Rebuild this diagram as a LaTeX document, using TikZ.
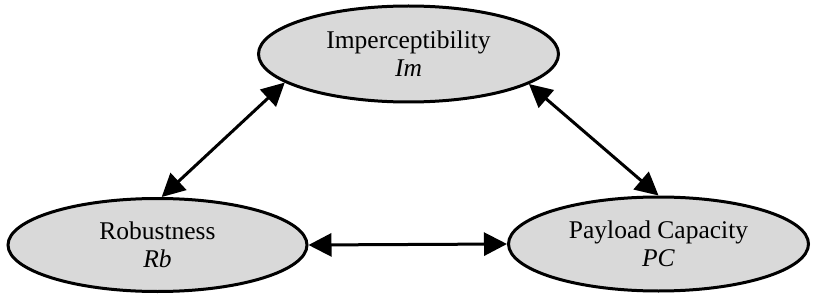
\documentclass[tikz,border=0pt]{standalone}
\usepackage{fontspec}
\setmainfont{Liberation Serif}
\usetikzlibrary{shapes.geometric,arrows.meta}
\definecolor{bubble}{HTML}{D9D9D9}
\begin{document}
\begin{tikzpicture}[x=1pt,y=-1pt,
  prop/.style={ellipse, draw=black, line width=3pt, fill=bubble, inner sep=0pt,
    align=center, font=\fontsize{25.5}{28.3}\selectfont},
  link/.style={line width=3pt, {Triangle[length=23pt,width=23pt]}-{Triangle[length=23pt,width=23pt]}}]
  \useasboundingbox[fill=white] (0,0) rectangle (814,302);
  \node[prop, minimum width=300pt, minimum height=96pt] (im) at (408.5,54)
    {Imperceptibility\\\textit{Im}};
  \node[prop, minimum width=299pt, minimum height=93pt] (rb) at (157.5,245)
    {Robustness\\\textit{Rb}};
  \node[prop, minimum width=300pt, minimum height=94pt] (pc) at (658.5,244)
    {Payload Capacity\\\textit{PC}};
  \draw[link] (rb.85) -- (im.193.5);
  \draw[link] (pc.90) -- (im.346.6);
  \draw[link] (rb.east) -- (pc.west);
\end{tikzpicture}
\end{document}
